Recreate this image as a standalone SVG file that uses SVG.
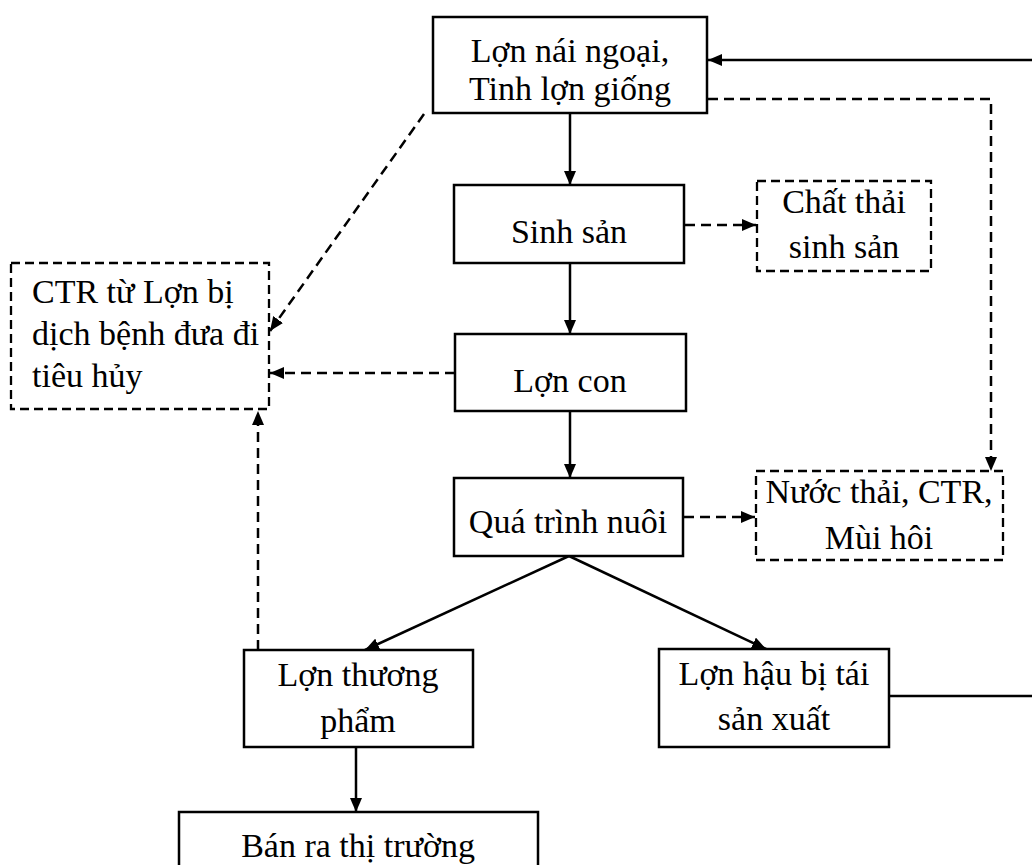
<svg xmlns="http://www.w3.org/2000/svg" width="1032" height="865" viewBox="0 0 1032 865">
<style>
.box{fill:#fff;stroke:#000;stroke-width:2.5}
.dbox{fill:#fff;stroke:#000;stroke-width:2.3;stroke-dasharray:9 5}
.ln{fill:none;stroke:#000;stroke-width:2.5}
.dl{fill:none;stroke:#000;stroke-width:2.5;stroke-dasharray:10 6}
text{font-family:"Liberation Serif","Times New Roman",serif;font-size:34px;fill:#000}
.c{text-anchor:middle}
</style>
<defs>
<marker id="ah" viewBox="0 0 14 12" refX="14" refY="6" markerWidth="14" markerHeight="12" markerUnits="userSpaceOnUse" orient="auto">
<path d="M0,0 L14,6 L0,12 z" fill="#000"/>
</marker>
</defs>
<rect width="1032" height="865" fill="#fff"/>
<g id="connectors">
<line class="ln" x1="1032" y1="60" x2="708" y2="60" marker-end="url(#ah)"/>
<polyline class="dl" points="708,99 991,99 991,471" marker-end="url(#ah)"/>
<line class="ln" x1="570" y1="114" x2="570" y2="185" marker-end="url(#ah)"/>
<line class="dl" x1="685" y1="225" x2="756" y2="225" marker-end="url(#ah)"/>
<line class="ln" x1="570" y1="264" x2="570" y2="334" marker-end="url(#ah)"/>
<line class="dl" x1="424" y1="114" x2="270" y2="331" marker-end="url(#ah)"/>
<line class="dl" x1="455" y1="373" x2="270" y2="373" marker-end="url(#ah)"/>
<line class="ln" x1="570" y1="412" x2="570" y2="478" marker-end="url(#ah)"/>
<line class="dl" x1="684" y1="517" x2="755" y2="517" marker-end="url(#ah)"/>
<line class="ln" x1="569" y1="556" x2="365" y2="650" marker-end="url(#ah)"/>
<line class="ln" x1="569" y1="556" x2="766" y2="649" marker-end="url(#ah)"/>
<line class="dl" x1="258" y1="650" x2="258" y2="411" marker-end="url(#ah)"/>
<line class="ln" x1="356" y1="748" x2="356" y2="812" marker-end="url(#ah)"/>
<line class="ln" x1="889" y1="696" x2="1032" y2="696"/>
</g>
<g id="n1">
<rect class="box" x="433" y="17" width="274" height="96"/>
<text class="c" x="570" y="62">Lợn nái ngoại,</text>
<text class="c" x="570" y="100">Tinh lợn giống</text>
</g>
<g id="n2">
<rect class="box" x="454" y="185" width="230" height="78"/>
<text class="c" x="569" y="243">Sinh sản</text>
</g>
<g id="n3">
<rect class="dbox" x="757" y="181" width="174" height="90"/>
<text class="c" x="844" y="213">Chất thải</text>
<text class="c" x="844" y="258">sinh sản</text>
</g>
<g id="n4">
<rect class="dbox" x="11" y="263" width="258" height="146"/>
<text x="32" y="303">CTR từ Lợn bị</text>
<text x="32" y="345">dịch bệnh đưa đi</text>
<text x="32" y="387">tiêu hủy</text>
</g>
<g id="n5">
<rect class="box" x="455" y="334" width="231" height="77"/>
<text class="c" x="570" y="392">Lợn con</text>
</g>
<g id="n6">
<rect class="box" x="454" y="478" width="229" height="78"/>
<text class="c" x="568" y="533">Quá trình nuôi</text>
</g>
<g id="n7">
<rect class="dbox" x="756" y="471" width="247" height="89"/>
<text class="c" x="879" y="503">Nước thải, CTR,</text>
<text class="c" x="879" y="549">Mùi hôi</text>
</g>
<g id="n8">
<rect class="box" x="244" y="650" width="229" height="97"/>
<text class="c" x="358" y="686">Lợn thương</text>
<text class="c" x="358" y="732">phẩm</text>
</g>
<g id="n9">
<rect class="box" x="659" y="649" width="230" height="98"/>
<text class="c" x="774" y="685">Lợn hậu bị tái</text>
<text class="c" x="774" y="730">sản xuất</text>
</g>
<g id="n10">
<rect class="box" x="179" y="812" width="359" height="70"/>
<text class="c" x="358" y="857">Bán ra thị trường</text>
</g>
</svg>
